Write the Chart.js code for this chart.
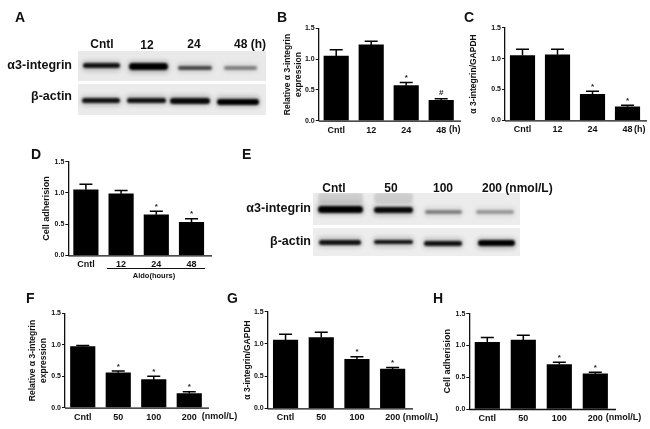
<!DOCTYPE html>
<html><head><meta charset="utf-8">
<script src="https://cdn.jsdelivr.net/npm/chart.js@4"></script>
<style>
html,body{margin:0;padding:0;background:#fff;width:650px;height:429px;overflow:hidden}
#stage{position:relative;width:650px;height:429px;font-family:"Liberation Sans",Arial,sans-serif;color:#111;filter:blur(.3px)}
canvas{position:absolute}
.t{position:absolute;font-weight:700;white-space:nowrap;line-height:1;transform:translateY(-50%)}
.r{transform:translate(-100%,-50%)}
.c{transform:translate(-50%,-50%)}
.blot{position:absolute;overflow:hidden}
.band{position:absolute;border-radius:4px}
.rule{position:absolute;background:#111}
</style></head><body><div id="stage"></div>
<script>
// ---------- data ----------
const categoriesHours = ["Cntl", "12", "24", "48"];
const categoriesDose = ["Cntl", "50", "100", "200"];
const yTickValues = [0, 0.5, 1.0, 1.5];

const bValues = [1.05, 1.23, 0.57, 0.33];
const bErrors = [0.10, 0.06, 0.05, 0.025];
const bMarks = ["", "", "*", "#"];

const cValues = [1.05, 1.06, 0.42, 0.22];
const cErrors = [0.10, 0.09, 0.05, 0.025];
const cMarks = ["", "", "*", "*"];

const dValues = [1.05, 0.985, 0.65, 0.53];
const dErrors = [0.09, 0.055, 0.055, 0.055];
const dMarks = ["", "", "*", "*"];

const fValues = [0.97, 0.555, 0.445, 0.225];
const fErrors = [0.02, 0.03, 0.055, 0.03];
const fMarks = ["", "*", "*", "*"];

const gValues = [1.06, 1.10, 0.76, 0.61];
const gErrors = [0.09, 0.08, 0.04, 0.025];
const gMarks = ["", "", "*", "*"];

const hValues = [1.05, 1.085, 0.70, 0.555];
const hErrors = [0.075, 0.075, 0.035, 0.025];
const hMarks = ["", "", "*", "*"];

// ---------- layout ----------
const panels = [
 {cats:categoriesHours,v:bValues,e:bErrors,m:bMarks,title:["Relative \u03b1 3-integrin","expression"],axisX:318.7,y15:28.3,y0:120.7,step:35,end:455,titleX:287.5,tf:8.5},
 {cats:categoriesHours,v:cValues,e:cErrors,m:cMarks,title:["\u03b1 3-integrin/GAPDH"],axisX:505,y15:27.7,y0:120.3,step:35,end:645,titleX:474,tf:8.5},
 {cats:categoriesHours,v:dValues,e:dErrors,m:dMarks,title:["Cell adherision"],axisX:68.3,y15:161.7,y0:255.3,step:35.2,end:208,titleX:47,tf:9},
 {cats:categoriesDose,v:fValues,e:fErrors,m:fMarks,title:["Relative \u03b1 3-integrin","expression"],axisX:65,y15:313.3,y0:407.7,step:35.5,end:206,titleX:32.5,tf:8.5},
 {cats:categoriesDose,v:gValues,e:gErrors,m:gMarks,title:["\u03b1 3-integrin/GAPDH"],axisX:267.7,y15:311.7,y0:408.3,step:35.7,end:409.3,titleX:247.3,tf:8.5},
 {cats:categoriesDose,v:hValues,e:hErrors,m:hMarks,title:["Cell adherision"],axisX:469.3,y15:313.7,y0:409,step:36,end:612.7,titleX:447.7,tf:9}
];
const texts = [
 ["A",15,17,14,""],["B",277,17,14,""],["C",464,17,14,""],["D",31,154,14,""],
 ["E",242,154,14,""],["F",26,298,14,""],["G",227,298,14,""],["H",433,298,14,""],
 ["Cntl",102,44,12,"c"],["12",147,45,12,"c"],["24",194,44,12,"c"],["48 (h)",250,44,12,"c"],
 ["\u03b13-integrin",72,65,12.5,"r"],["\u03b2-actin",72,96,12.5,"r"],
 ["Cntl",334,188,12,"c"],["50",391,188,12,"c"],["100",443,188,12,"c"],["200 (nmol/L)",482,188,12,""],
 ["\u03b13-integrin",311,208,12.5,"r"],["\u03b2-actin",311,241,12.5,"r"],
 ["(h)",449,129,9,""],["(h)",634,129,9,""],
 ["Aldo(hours)",154,276,7.5,"c"],
 ["(nmol/L)",201.7,416,9,""],["(nmol/L)",402.7,417,9,""],["(nmol/L)",605.7,417,9,""]
];
const blots = [
 {x:78,y:50.7,w:188,h:30,bg:"#e9e9e9",bands:[[82.7,120,66,5,.9],[129,168,67,7,1],[178,212,68,4,.65],[224,257,68,3.5,.4]]},
 {x:78,y:84.3,w:188,h:30.7,bg:"#ebebeb",bands:[[82,120,100.7,5,.9],[127,166,100.5,5,.9],[170,210,101,6,.95],[217,259,102,6,1]]},
 {x:313,y:193,w:207,h:32,bg:"#ececec",bands:[[318,363,198,10,.1],[374,413,198,10,.1],[318,363,209,7,1],[374,413,210,6,.95],[425,462,212,4.5,.4],[476,514,212,4.5,.3]]},
 {x:313,y:228,w:207,h:28,bg:"#ededed",bands:[[319,361,242,5,.9],[374,413,242,4.5,.9],[424,462,243,5,.9],[478,515,243,6,1]]}
];
const rules = [[107,267.6,98,1]];

// ---------- marks drawn from the scales ----------
const annotate = {
 id:"annotate",
 afterDatasetsDraw(chart,args,o){
  const {ctx,scales:{x,y},chartArea:a} = chart;
  ctx.save();
  ctx.strokeStyle="#111"; ctx.lineWidth=1.3;
  ctx.beginPath(); ctx.moveTo(a.left,a.bottom+.5); ctx.lineTo(o.end,a.bottom+.5); ctx.stroke();
  ctx.strokeStyle="#000"; ctx.lineWidth=1.5;
  o.v.forEach((val,i)=>{
   const px=x.getPixelForValue(i), p0=y.getPixelForValue(val), p1=y.getPixelForValue(val+o.e[i]);
   ctx.beginPath(); ctx.moveTo(px,p0); ctx.lineTo(px,p1);
   ctx.moveTo(px-6.5,p1); ctx.lineTo(px+6.5,p1); ctx.stroke();
   if(o.m[i]){
    ctx.fillStyle="#222"; ctx.textAlign="center"; ctx.textBaseline="middle";
    ctx.font='700 8px "Liberation Sans"';
    ctx.fillText(o.m[i],px,p1-(o.m[i]==="#"?6:4.5));
   }
  });
  ctx.restore();
 }
};

const stage=document.getElementById("stage");
blots.forEach(b=>{
 const d=document.createElement("div"); d.className="blot";
 d.style.cssText=`left:${b.x}px;top:${b.y}px;width:${b.w}px;height:${b.h}px;background:${b.bg}`;
 b.bands.forEach(s=>{
  const halo=document.createElement("div"); halo.className="band";
  halo.style.cssText=`left:${s[0]-b.x-1}px;top:${s[2]-s[3]/2-b.y-2.5}px;width:${s[1]-s[0]+2}px;height:${s[3]+5}px;background:#000;opacity:${s[4]*.22};filter:blur(2.5px)`;
  d.appendChild(halo);
  const e=document.createElement("div"); e.className="band";
  e.style.cssText=`left:${s[0]-b.x}px;top:${s[2]-s[3]/2-b.y}px;width:${s[1]-s[0]}px;height:${s[3]}px;background:#000;opacity:${s[4]};filter:blur(1.1px)`;
  d.appendChild(e);
 });
 stage.appendChild(d);
});
texts.forEach(t=>{
 const e=document.createElement("div"); e.className="t "+t[4];
 e.textContent=t[0];
 e.style.cssText=`left:${t[1]}px;top:${t[2]}px;font-size:${t[3]}px`;
 stage.appendChild(e);
});
rules.forEach(r=>{
 const e=document.createElement("div"); e.className="rule";
 e.style.cssText=`left:${r[0]}px;top:${r[1]}px;width:${r[2]}px;height:${r[3]}px`;
 stage.appendChild(e);
});
panels.forEach(p=>{
 const cLeft=Math.floor(p.titleX-8), cTop=Math.floor(p.y15-8);
 const cRight=Math.ceil(p.axisX+4*p.step+2), cBottom=Math.ceil(p.y0+16);
 const c=document.createElement("canvas");
 c.width=cRight-cLeft; c.height=cBottom-cTop;
 c.style.left=cLeft+"px"; c.style.top=cTop+"px";
 stage.appendChild(c);
 new Chart(c,{
  type:"bar",
  data:{labels:p.cats,datasets:[{data:p.v,backgroundColor:"#000",barThickness:24.5}]},
  plugins:[annotate],
  options:{
   responsive:false,animation:false,
   layout:{padding:{top:p.y15-cTop,right:cRight-(p.axisX+4*p.step),left:0,bottom:0}},
   plugins:{legend:{display:false},tooltip:{enabled:false},annotate:{v:p.v,e:p.e,m:p.m,end:p.end}},
   scales:{
    x:{
     afterFit(s){s.height=cBottom-p.y0;},
     grid:{display:false,drawTicks:false},border:{display:false},
     ticks:{color:"#111",padding:4,maxRotation:0,autoSkip:false,font:{family:"Liberation Sans",weight:"700",size:9}}
    },
    y:{
     min:0,max:1.5,
     afterFit(s){s.width=p.axisX-cLeft;},
     afterBuildTicks(s){s.ticks=yTickValues.map(v=>({value:v}));},
     grid:{drawOnChartArea:false,drawTicks:true,tickLength:3,color:"#111",lineWidth:1},
     border:{display:true,color:"#111",width:1.3},
     ticks:{color:"#111",padding:1,font:{family:"Liberation Sans",weight:"700",size:7},callback:v=>Number(v).toFixed(1)},
     title:{display:true,text:p.title,color:"#111",padding:{top:p.titleX-cLeft-5.5,bottom:0},font:{family:"Liberation Sans",weight:"700",size:p.tf,lineHeight:"11px"}}
    }
   }
  }
 });
});
</script></body></html>
